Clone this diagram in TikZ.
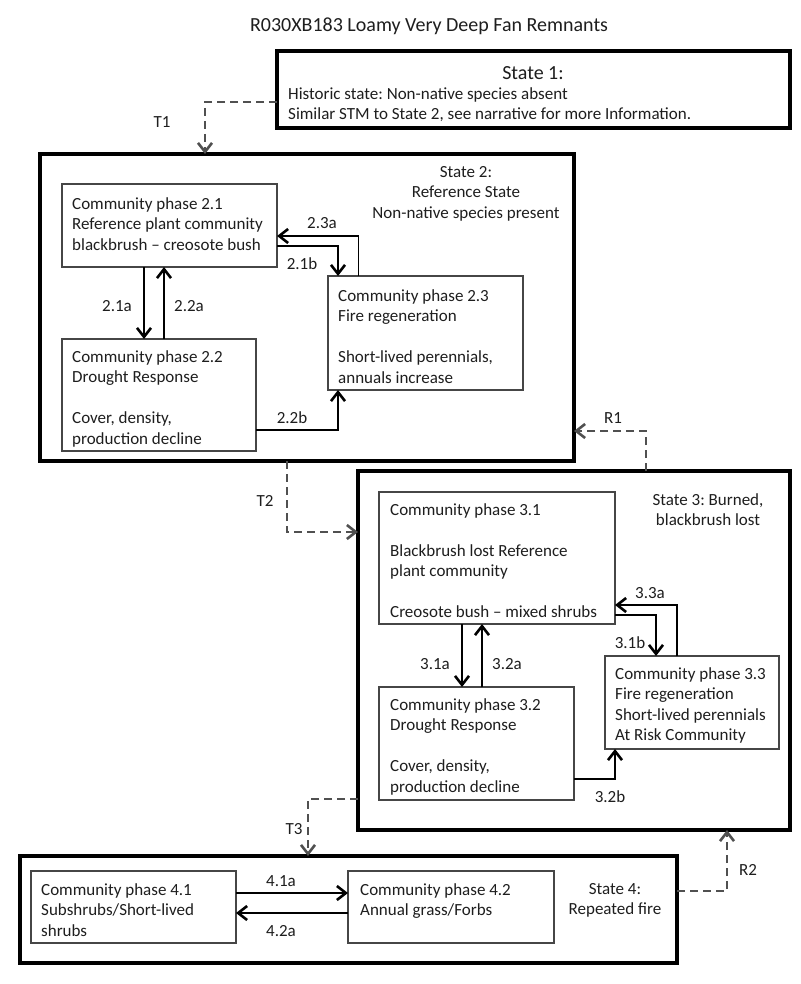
\documentclass[tikz,border=0pt]{standalone}
\usepackage{fontspec}
\setmainfont{Carlito}
\usetikzlibrary{arrows.meta,calc}
\definecolor{textc}{RGB}{30,30,30}
\definecolor{boxgray}{RGB}{70,70,70}
\definecolor{dashc}{RGB}{80,80,80}
\frenchspacing
\begin{document}
\begin{tikzpicture}[x=1pt,y=-1pt,
  statebox/.style={draw=black,line width=3.5pt,outer sep=0pt,inner sep=0pt,anchor=north west},
  phasebox/.style={draw=boxgray,line width=1.3pt,outer sep=0pt,inner sep=0pt,anchor=north west},
  txt/.style={font=\fontsize{17}{20.5}\selectfont,text=textc,inner sep=0pt,align=left,anchor=north west},
  ctxt/.style={font=\fontsize{17}{20.5}\selectfont,text=textc,inner sep=0pt,align=center,anchor=north},
  lbl/.style={font=\fontsize{17}{20.5}\selectfont,text=textc,inner sep=0pt},
  tip/.style={-{Straight Barb[length=9pt,width=14pt,line width=2.6pt]}},
  arr/.style={draw=black,line width=1.5pt,tip},
  darr/.style={draw=dashc,line width=1.5pt,dash pattern=on 8pt off 5pt,tip}
]
\useasboundingbox[fill=white] (0,0) rectangle (800,984);

% title
\node[lbl,font=\fontsize{20}{24}\selectfont] (title) at (429,26) {R030XB183 Loamy Very Deep Fan Remnants};

% state boxes
\node[statebox,minimum width=513pt,minimum height=77pt] (s1) at (277,51) {};
\node[statebox,minimum width=534pt,minimum height=307pt] (s2) at (40,154) {};
\node[statebox,minimum width=432pt,minimum height=359pt] (s3) at (358,471) {};
\node[statebox,minimum width=657pt,minimum height=107pt] (s4) at (20,856) {};

% phase boxes
\node[phasebox,minimum width=215pt,minimum height=83pt] (p21) at (62,184) {};
\node[phasebox,minimum width=194pt,minimum height=112pt] (p22) at (62,339) {};
\node[phasebox,minimum width=195pt,minimum height=114pt] (p23) at (328,276) {};
\node[phasebox,minimum width=236pt,minimum height=132pt] (p31) at (379,492) {};
\node[phasebox,minimum width=195pt,minimum height=113pt] (p32) at (379,687) {};
\node[phasebox,minimum width=174pt,minimum height=93pt] (p33) at (605,656) {};
\node[phasebox,minimum width=205pt,minimum height=72pt] (p41) at (31,871) {};
\node[phasebox,minimum width=206pt,minimum height=72pt] (p42) at (348,871) {};

% state texts
\node[lbl,font=\fontsize{20}{24}\selectfont] (s1h) at (533,73) {State 1:};
\node[txt] (s1t) at (288,87) {Historic state: Non-native species absent\\Similar STM to State 2, see narrative for more Information.};
\node[ctxt] (s2t) at (466,166) {State 2:\\Reference State\\Non-native species present};
\node[ctxt] (s3t) at (708,493) {State 3: Burned,\\blackbrush lost};
\node[ctxt] (s4t) at (615,883) {State 4:\\Repeated fire};

% phase texts
\node[txt] (p21t) at (72,197) {Community phase 2.1\\Reference plant community\\blackbrush – creosote bush};
\node[txt] (p22t) at (72,350) {Community phase 2.2\\Drought Response\\[20.5pt]Cover, density,\\production decline};
\node[txt] (p23t) at (338,289) {Community phase 2.3\\Fire regeneration\\[20.5pt]Short-lived perennials,\\annuals increase};
\node[txt] (p31t) at (390,503) {Community phase 3.1\\[20.5pt]Blackbrush lost Reference\\plant community\\[20.5pt]Creosote bush – mixed shrubs};
\node[txt] (p32t) at (390,698) {Community phase 3.2\\Drought Response\\[20.5pt]Cover, density,\\production decline};
\node[txt] (p33t) at (615,667) {Community phase 3.3\\Fire regeneration\\Short-lived perennials\\At Risk Community};
\node[txt] (p41t) at (41,883) {Community phase 4.1\\Subshrubs/Short-lived\\shrubs};
\node[txt] (p42t) at (360,883) {Community phase 4.2\\Annual grass/Forbs};

% state 2 transitions
\draw[arr] ($(p21.south west)+(82,0)$) -- ($(p22.north west)+(82,0)$);
\draw[arr] ($(p22.north west)+(102,0)$) -- ($(p21.south west)+(102,0)$);
\draw[arr] ($(p23.north west)+(30.6,0)$) |- ($(p21.north east)+(0,52)$);
\draw[arr] ($(p21.north east)+(0,62)$) -| ($(p23.north west)+(10,0)$);
\draw[arr] ($(p22.north east)+(0,91)$) -| ($(p23.south west)+(10,0)$);
\node[lbl] (l21a) at (117,306) {2.1a};
\node[lbl] (l22a) at (189,306) {2.2a};
\node[lbl] (l23a) at (322,223) {2.3a};
\node[lbl] (l21b) at (302,264) {2.1b};
\node[lbl] (l22b) at (292,418) {2.2b};

% state 3 transitions
\draw[arr] ($(p31.south west)+(83,0)$) -- ($(p32.north west)+(83,0)$);
\draw[arr] ($(p32.north west)+(103,0)$) -- ($(p31.south west)+(103,0)$);
\draw[arr] ($(p33.north west)+(72,0)$) |- ($(p31.north east)+(0,113)$);
\draw[arr] ($(p31.north east)+(0,123)$) -| ($(p33.north west)+(51,0)$);
\draw[arr] ($(p32.north east)+(0,92)$) -| ($(p33.south west)+(10,0)$);
\node[lbl] (l31a) at (435,664) {3.1a};
\node[lbl] (l32a) at (507,664) {3.2a};
\node[lbl] (l33a) at (650,593) {3.3a};
\node[lbl] (l31b) at (630,643) {3.1b};
\node[lbl] (l32b) at (610,797) {3.2b};

% state 4 transitions
\draw[arr] ($(p41.north east)+(0,22)$) -- ($(p42.north west)+(0,22)$);
\draw[arr] ($(p42.north west)+(0,42)$) -- ($(p41.north east)+(0,42)$);
\node[lbl] (l41a) at (281,881) {4.1a};
\node[lbl] (l42a) at (281,931) {4.2a};

% state transitions (dashed)
\draw[darr] ($(s1.north west)+(0,51)$) -| ($(s2.north west)+(165,0)$);
\draw[darr] ($(s2.south west)+(247,0)$) |- ($(s3.north west)+(0,61)$);
\draw[darr] ($(s3.north west)+(288,0)$) |- ($(s2.north east)+(0,277)$);
\draw[darr] ($(s3.north west)+(0,328)$) -| ($(s4.north west)+(288,0)$);
\draw[darr] ($(s4.north east)+(0,35)$) -| ($(s3.south west)+(369,0)$);
\node[lbl] (lT1) at (162,122) {T1};
\node[lbl] (lT2) at (265,501) {T2};
\node[lbl] (lR1) at (613,418) {R1};
\node[lbl] (lT3) at (294,829) {T3};
\node[lbl] (lR2) at (748,870) {R2};
\end{tikzpicture}
\end{document}
